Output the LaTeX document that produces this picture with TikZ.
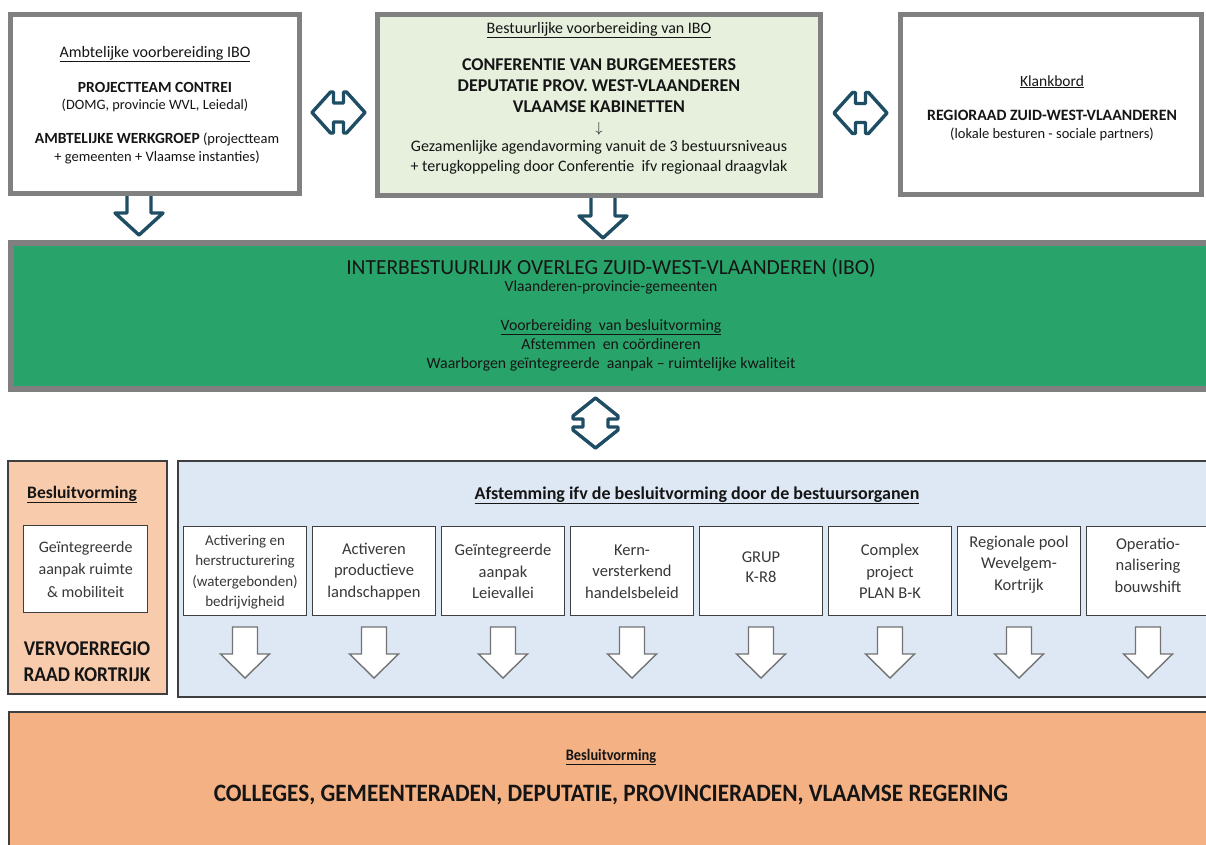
\documentclass[tikz,border=0pt]{standalone}
\usepackage{fontspec}
\setmainfont{Carlito}
\definecolor{bordergray}{HTML}{808080}
\definecolor{darkline}{HTML}{3F3F3F}
\definecolor{paleGreen}{HTML}{E6F0DD}
\definecolor{iboGreen}{HTML}{28A46A}
\definecolor{peach}{HTML}{F8CBAD}
\definecolor{paleBlue}{HTML}{DDE8F4}
\definecolor{orangeBox}{HTML}{F4B183}
\definecolor{arrowTeal}{HTML}{1F4E64}
\definecolor{ink}{HTML}{151515}
\newcommand\fsz[2]{\fontsize{#1}{#2}\selectfont}
\begin{document}
\begin{tikzpicture}[x=1pt,y=-1pt,
  every node/.style={outer sep=0pt},
  topbox/.style={draw=bordergray, line width=5pt, fill=white, inner sep=0pt, anchor=north west},
  thinbox/.style={draw=darkline, line width=1.6pt, inner sep=0pt, anchor=north west},
  itembox/.style={draw=darkline, line width=1.4pt, fill=white, inner sep=0pt, anchor=north west, minimum width=123pt, minimum height=89pt},
  txt/.style={inner sep=0pt, anchor=base, text=ink},
  mtxt/.style={inner sep=0pt, align=center, text=black!78},
  darkarrow/.style={draw=arrowTeal, line width=3.4pt, fill=white, line join=round},
  whitearrow/.style={draw=black!55, line width=1.4pt, fill=white, line join=miter},
  pics/darkdown/.style={code={
    \draw[darkarrow] (-12,0) -- (12,0) -- (12,21) -- (24,21) -- (0,43) -- (-24,21) -- (-12,21) -- cycle;}},
  pics/hdouble/.style={code={
    \draw[darkarrow] (-26.5,0) -- (-8,-20.5) -- (-5,-20.5) -- (-5,-9.5) -- (5,-9.5) -- (5,-20.5) -- (8,-20.5) -- (26.5,0) -- (8,20.5) -- (5,20.5) -- (5,9.5) -- (-5,9.5) -- (-5,20.5) -- (-8,20.5) -- cycle;}},
  pics/vdouble/.style={code={
    \draw[darkarrow] (0,-25) -- (22.5,-7) -- (22.5,-4) -- (12.5,-4) -- (12.5,4) -- (22.5,4) -- (22.5,7) -- (0,25) -- (-22.5,7) -- (-22.5,4) -- (-12.5,4) -- (-12.5,-4) -- (-22.5,-4) -- (-22.5,-7) -- cycle;}},
  pics/whitedown/.style={code={
    \draw[whitearrow] (-12.5,0) -- (12.5,0) -- (12.5,27) -- (24.5,27) -- (0,51) -- (-24.5,27) -- (-12.5,27) -- cycle;}}
]
\fill[white] (0,0) rectangle (1206,844);
\useasboundingbox (0,0) rectangle (1206,844);

% dark arrows (drawn below the boxes)
\pic at (139,192) {darkdown};
\pic at (603,195) {darkdown};
\pic at (338.5,112.5) {hdouble};
\pic at (860.5,113) {hdouble};
\pic at (595.5,423) {vdouble};

% top boxes
\node[topbox, minimum width=289pt, minimum height=179pt] (lbox) at (10.5,14.5) {};
\node[topbox, fill=paleGreen, minimum width=443pt, minimum height=181pt] (mbox) at (377.5,14.5) {};
\node[topbox, minimum width=301pt, minimum height=180pt] (rbox) at (900.5,14.5) {};

% IBO box
\node[topbox, line width=6pt, fill=iboGreen, minimum width=1210pt, minimum height=146pt] (ibo) at (11,243) {};

% lower boxes
\node[thinbox, fill=peach, minimum width=159pt, minimum height=233pt] (vrr) at (8,461) {};
\node[thinbox, fill=paleBlue, minimum width=1040pt, minimum height=236pt] (afst) at (178,461) {};
\node[thinbox, fill=orangeBox, minimum width=1210pt, minimum height=150pt] (besl) at (9,712) {};

% left box texts
\node[txt, font=\fsz{16}{18}] (l1) at (155,57) {\underline{Ambtelijke voorbereiding IBO}};
\node[txt, font=\bfseries\fsz{15.5}{18}] (l2) at (155,92) {PROJECTTEAM CONTREI};
\node[txt, font=\fsz{14.3}{17}] (l3) at (155,109) {(DOMG, provincie WVL, Leiedal)};
\node[txt, font=\fsz{14.5}{17}] (l4) at (157,143) {\textbf{\fsz{15.5}{18}AMBTELIJKE WERKGROEP} (projectteam};
\node[txt, font=\fsz{14.5}{17}] (l5) at (157,161) {+ gemeenten + Vlaamse instanties)};

% middle box texts
\node[txt, font=\fsz{16}{18}] (m1) at (599,33) {\underline{Bestuurlijke voorbereiding van IBO}};
\node[txt, font=\bfseries\fsz{18}{21}] (m2) at (599,70) {CONFERENTIE VAN BURGEMEESTERS};
\node[txt, font=\bfseries\fsz{18}{21}] (m3) at (599,91) {DEPUTATIE PROV. WEST-VLAANDEREN};
\node[txt, font=\bfseries\fsz{18}{21}] (m4) at (599,112) {VLAAMSE KABINETTEN};
\node[txt, font=\fsz{14}{16}] (marr) at (599,132) {$\downarrow$};
\node[txt, font=\fsz{16}{18}] (m5) at (599,151) {Gezamenlijke agendavorming vanuit de 3 bestuursniveaus};
\node[txt, font=\fsz{16}{18}] (m6) at (599,171) {+ terugkoppeling door Conferentie\ \ ifv regionaal draagvlak};

% right box texts
\node[txt, font=\fsz{15.5}{18}] (r1) at (1052,86) {\underline{Klankbord}};
\node[txt, font=\bfseries\fsz{15.8}{18}] (r2) at (1052,120) {REGIORAAD ZUID-WEST-VLAANDEREN};
\node[txt, font=\fsz{14.5}{17}] (r3) at (1052,138) {(lokale besturen - sociale partners)};

% IBO texts
\node[txt, font=\fsz{21.5}{24}] (t1) at (611,274) {INTERBESTUURLIJK OVERLEG ZUID-WEST-VLAANDEREN (IBO)};
\node[txt, font=\fsz{15.6}{18}] (t2) at (611,291) {Vlaanderen-provincie-gemeenten};
\node[txt, font=\fsz{15.8}{18}] (t3) at (611,330) {\underline{Voorbereiding\ \ van besluitvorming}};
\node[txt, font=\fsz{15.8}{18}] (t4) at (611,349) {Afstemmen\ \ en coördineren};
\node[txt, font=\fsz{15.8}{18}] (t5) at (611,368) {Waarborgen geïntegreerde\ \ aanpak -- ruimtelijke kwaliteit};

% left peach texts
\node[txt, font=\bfseries\fsz{17.5}{19}] (p1) at (82,498) {\underline{Besluitvorming}};
\node[itembox, minimum width=124pt, minimum height=87pt] (gia) at (23.7,525.7) {};
\node[mtxt, font=\fsz{16}{22.5}] (giat) at (gia.center) {Geïntegreerde\\aanpak ruimte\\\& mobiliteit};
\node[txt, font=\bfseries\fsz{21}{22}] (p2) at (87,655) {\scalebox{0.92}[1]{VERVOERREGIO}};
\node[txt, font=\bfseries\fsz{21}{22}] (p3) at (87,681) {\scalebox{0.92}[1]{RAAD KORTRIJK}};

% blue header
\node[txt, font=\bfseries\fsz{18}{20}] (b0) at (697,499) {\underline{Afstemming ifv de besluitvorming door de bestuursorganen}};

% item boxes
\foreach \i in {0,...,7} {
  \node[itembox] (it\i) at (183.7+129*\i,526.7) {};
  \pic at (245+129*\i,627) {whitedown};
}
\node[mtxt, font=\fsz{15}{20.5}] (it0t) at (245,572) {Activering en\\herstructurering\\(watergebonden)\\bedrijvigheid};
\node[mtxt, font=\fsz{16.5}{21.5}] (it1t) at (374,571.5) {Activeren\\productieve\\landschappen};
\node[mtxt, font=\fsz{16.5}{21.5}] (it2t) at (503,571.5) {Geïntegreerde\\aanpak\\Leievallei};
\node[mtxt, font=\fsz{16.5}{21.5}] (it3t) at (632,571.5) {Kern-\\versterkend\\handelsbeleid};
\node[mtxt, font=\fsz{16.5}{20}] (it4t) at (761,567) {GRUP\\K-R8};
\node[mtxt, font=\fsz{16.5}{21.5}] (it5t) at (890,571.5) {Complex\\project\\PLAN B-K};
\node[mtxt, font=\fsz{16.5}{21.5}] (it6t) at (1019,564.5) {Regionale pool\\Wevelgem-\\Kortrijk};
\node[mtxt, font=\fsz{16.5}{21.5}] (it7t) at (1148,565) {Operatio-\\nalisering\\bouwshift};

% bottom texts
\node[txt, font=\bfseries\fsz{16}{18}] (bb1) at (611,760) {\scalebox{0.9}[1]{\underline{Besluitvorming}}};
\node[txt, font=\bfseries\fsz{25}{28}] (bb2) at (611,801) {\scalebox{0.93}[1]{COLLEGES, GEMEENTERADEN, DEPUTATIE, PROVINCIERADEN, VLAAMSE REGERING}};
\end{tikzpicture}
\end{document}
